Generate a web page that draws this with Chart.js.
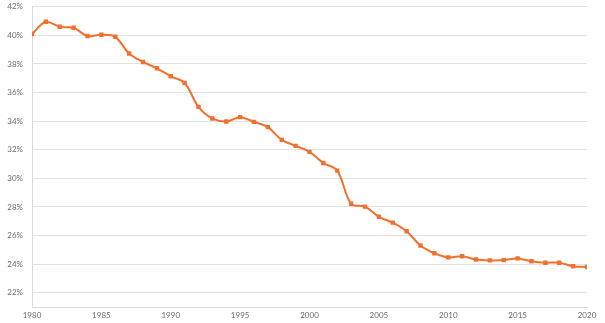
<!DOCTYPE html>
<html>
<head>
<meta charset="utf-8">
<script src="https://cdn.jsdelivr.net/npm/chart.js@4.4.0/dist/chart.umd.min.js"></script>
<style>
html,body{margin:0;padding:0;background:#fff;}
#wrap{width:605px;height:323px;position:relative;}
</style>
</head>
<body>
<div id="wrap"><canvas id="c"></canvas></div>
<script>
const years = [1980,1981,1982,1983,1984,1985,1986,1987,1988,1989,1990,1991,1992,1993,1994,1995,1996,1997,1998,1999,2000,2001,2002,2003,2004,2005,2006,2007,2008,2009,2010,2011,2012,2013,2014,2015,2016,2017,2018,2019,2020];
const values = [40.1,40.95,40.6,40.53,39.96,40.05,39.9,38.73,38.14,37.7,37.14,36.67,35.0,34.19,33.98,34.28,33.95,33.58,32.69,32.27,31.85,31.07,30.54,28.22,28.02,27.31,26.9,26.3,25.3,24.76,24.47,24.55,24.32,24.26,24.28,24.4,24.2,24.1,24.1,23.85,23.8];
const yTicks = [22,24,26,28,30,32,34,36,38,40,42];
const xTicks = [1980,1985,1990,1995,2000,2005,2010,2015,2020];

const points = years.map((y,i)=>({x:y,y:values[i]}));
const orange = '#f2702e';
new Chart(document.getElementById('c'), {
  type:'line',
  data:{datasets:[{
    data:points,
    borderColor:orange,
    backgroundColor:orange,
    borderWidth:2,
    pointRadius:1.7,
    pointStyle:'rect',
    pointHoverRadius:2,
    tension:0.35
  }]},
  options:{
    responsive:true,
    maintainAspectRatio:false,
    animation:false,
    layout:{padding:{top:1,right:18,left:0,bottom:0}},
    plugins:{legend:{display:false},tooltip:{enabled:false}},
    scales:{
      x:{
        type:'linear',
        min:1980,max:2020,
        afterBuildTicks:(s)=>{s.ticks = xTicks.map(v=>({value:v}));},
        afterFit:(s)=>{s.height=16;},
        grid:{display:false,drawTicks:false},
        border:{display:true,color:'#d9d9d9',width:1},
        ticks:{color:'#6a6a6a',font:{family:'Lato',size:8},padding:4,maxRotation:0,
          callback:(v)=>String(v)}
      },
      y:{
        min:21,max:42,
        afterBuildTicks:(s)=>{s.ticks = yTicks.map(v=>({value:v}));},
        afterFit:(s)=>{s.width=32;},
        grid:{color:'#e2e2e2',lineWidth:1,drawTicks:true,tickLength:7,tickColor:'rgba(0,0,0,0)'},
        border:{display:true,color:'#d9d9d9',width:1},
        ticks:{color:'#6a6a6a',font:{family:'Lato',size:8},padding:2,
          callback:(v)=>v+'%'}
      }
    }
  }
});
</script>
</body>
</html>
